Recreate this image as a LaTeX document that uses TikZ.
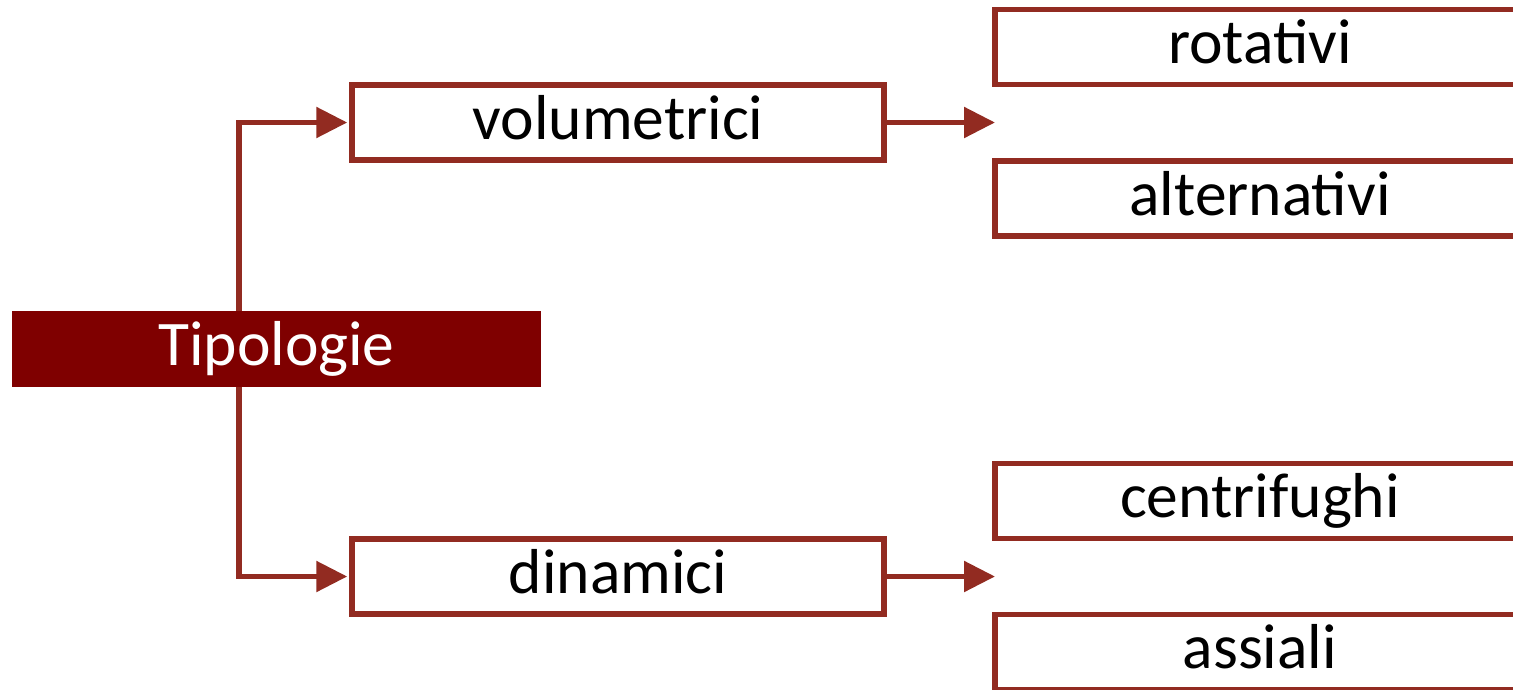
\documentclass[tikz,border=0pt]{standalone}
\usepackage{fontspec}
\setmainfont{Carlito}
\usetikzlibrary{arrows.meta,backgrounds}
\definecolor{lc}{HTML}{922B21}
\definecolor{fc}{HTML}{7F0000}
\begin{document}
\begin{tikzpicture}[x=1pt,y=-1pt,
  txt/.style={font=\fontsize{63.5}{68}\selectfont, text height=44pt, text depth=11pt, inner sep=0pt},
  box/.style={txt, draw=lc, line width=5.5pt, fill=white, minimum width=532pt, minimum height=75pt},
  rbox/.style={box, minimum width=530pt},
  root/.style={txt, fill=fc, text=white, minimum width=529pt, minimum height=76pt},
  arr/.style={draw=lc, line width=5.5pt, -{Triangle[length=31pt,width=30pt]}, shorten >=2pt}
]
\useasboundingbox (0,0) rectangle (1513,689);
\clip (0,0) rectangle (1513,689);
\node[root] (tip) at (276.5,349) {Tipologie};
\node[box] (vol) at (618,122.5) {volumetrici};
\node[box] (din) at (618,576.5) {dinamici};
\node[rbox] (rot) at (1260,47) {rotativi};
\node[rbox] (alt) at (1260,198.5) {alternativi};
\node[rbox] (cen) at (1260,501) {centrifughi};
\node[rbox] (ass) at (1260,652) {assiali};
\coordinate (bj) at (239,349);
\coordinate (r1) at (997,122.5);
\coordinate (r2) at (997,576.5);
\begin{scope}[on background layer]
\draw[arr] (bj) |- (vol.west);
\draw[arr] (bj) |- (din.west);
\end{scope}
\draw[arr] (vol.east) -- (r1);
\draw[arr] (din.east) -- (r2);
\end{tikzpicture}
\end{document}
